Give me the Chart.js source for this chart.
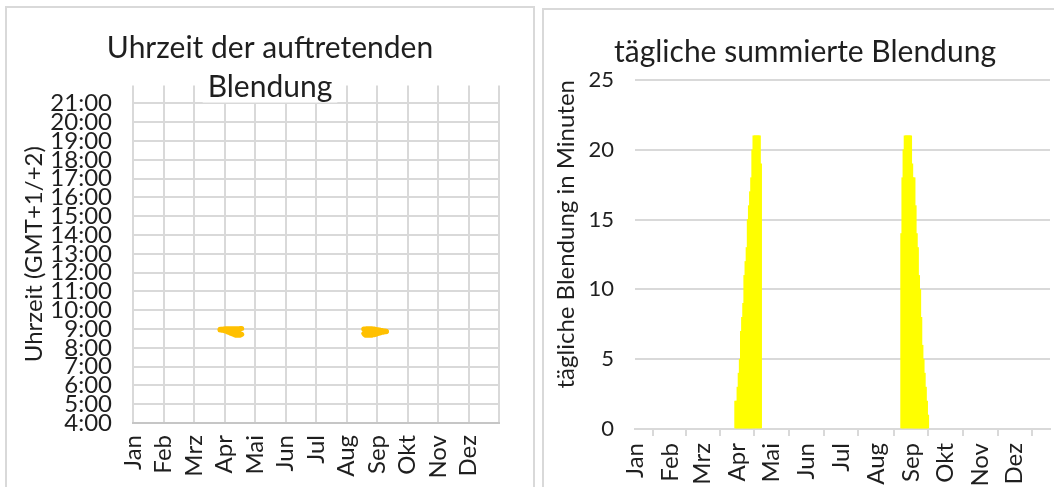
<!DOCTYPE html>
<html lang="de">
<head>
<meta charset="utf-8">
<title>Blendung</title>
<script src="https://cdn.jsdelivr.net/npm/chart.js@4.4.1/dist/chart.umd.min.js"></script>
<style>
  html, body { margin: 0; padding: 0; background: #fff; }
  body { position: relative; width: 1054px; height: 487px; overflow: hidden; }
  .panel { position: absolute; border: 2px solid #d9d9d9; box-sizing: border-box; }
  #timePanel { left: 5px; top: 6px; width: 530px; height: 500px; }
  #sumPanel { left: 542px; top: 8px; width: 530px; height: 500px; }
  canvas { display: block; }
</style>
</head>
<body>
<div class="panel" id="timePanel"><canvas id="timeChart" width="526" height="479"></canvas></div>
<div class="panel" id="sumPanel"><canvas id="sumChart" width="522" height="477"></canvas></div>
<script>
const months = ['Jan', 'Feb', 'Mrz', 'Apr', 'Mai', 'Jun', 'Jul', 'Aug', 'Sep', 'Okt', 'Nov', 'Dez']
// Monatsanfang als Tag des Jahres (0 = 1. Januar)
const monthStarts = [0, 31, 59, 90, 120, 151, 181, 212, 243, 273, 304, 334, 365]

// Frühjahr, erster Tag mit Blendung: Tag 88 (30. März)
const springFirstDay = 88
const springMinutes = [2, 2, 3, 4, 5, 7, 8, 9, 11, 12, 13, 15, 16, 17, 18, 20, 21, 21, 21, 21, 21, 21, 19]
const springStart = ['8:57', '8:57', '8:56', '8:56', '8:55', '8:54', '8:53', '8:52', '8:50', '8:49', '8:48', '8:46',
  '8:45', '8:44', '8:43', '8:41', '8:40', '8:40', '8:40', '8:40', '8:40', '8:41', '8:43']

// Spätsommer, erster Tag mit Blendung: Tag 234 (23. August)
const autumnFirstDay = 234
const autumnMinutes = [14, 18, 20, 21, 21, 21, 21, 21, 21, 19, 18, 18, 16, 14, 13, 11, 10, 8, 6, 5, 4, 3, 2, 1]
const autumnStart = ['8:46', '8:42', '8:40', '8:40', '8:40', '8:40', '8:40', '8:40', '8:40', '8:41', '8:42', '8:42',
  '8:43', '8:44', '8:45', '8:46', '8:47', '8:48', '8:49', '8:50', '8:50', '8:51', '8:51', '8:52']

const FONT = 'Lato'
const TEXT = '#1f1f1f'
const GRID = '#d9d9d9'
const GLARE_TIME = '#ffc000'
const GLARE_SUM = '#ffff00'

const toHours = (text) => {
  const [h, m] = text.split(':').map(Number)
  return h + m / 60
}

// Punkte je Tag, in der Mitte des Tages
const dayPoints = (firstDay, values) => values.map((y, i) => ({ x: firstDay + i + 0.5, y }))

const startPoints = (firstDay, starts) => dayPoints(firstDay, starts.map(toHours))
const endPoints = (firstDay, starts, minutes) =>
  dayPoints(firstDay, starts.map((t, i) => toHours(t) + minutes[i] / 60))

// Beginn und Ende der Blendung als dicke Linien, dazwischen gefüllt
const glareBand = (data, fill) => ({
  data,
  fill,
  borderColor: GLARE_TIME,
  backgroundColor: GLARE_TIME,
  borderWidth: 5,
  borderCapStyle: 'round',
  borderJoinStyle: 'round',
  pointRadius: 0,
  tension: 0
})

// Weißer Hintergrund unter den Titelzeilen, damit die Gitterlinien nicht durch den Titel laufen
const titleBackdrop = {
  id: 'titleBackdrop',
  afterDraw (chart) {
    const title = chart.titleBlock
    if (!title) return
    const opts = title.options
    const lineHeight = opts.font.size * opts.font.lineHeight
    const lines = [].concat(opts.text)
    const { ctx } = chart
    const centerX = (title.left + title.right) / 2
    ctx.save()
    ctx.font = `${opts.font.size}px ${opts.font.family}`
    ctx.fillStyle = '#ffffff'
    lines.forEach((line, i) => {
      const middle = title.top + opts.padding.top + lineHeight / 2 + i * lineHeight
      const width = ctx.measureText(line).width + 10
      ctx.fillRect(centerX - width / 2, middle - lineHeight / 2, width, lineHeight * 0.9)
    })
    ctx.restore()
    title.draw()
  }
}

const createTimeChart = (canvasId) => {
  return new Chart(document.getElementById(canvasId), {
    type: 'line',
    data: {
      datasets: [
        glareBand(startPoints(springFirstDay, springStart), false),
        glareBand(endPoints(springFirstDay, springStart, springMinutes), '-1'),
        glareBand(startPoints(autumnFirstDay, autumnStart), false),
        glareBand(endPoints(autumnFirstDay, autumnStart, autumnMinutes), '-1')
      ]
    },
    plugins: [titleBackdrop],
    options: {
      responsive: false,
      animation: false,
      events: [],
      plugins: {
        legend: { display: false },
        tooltip: { enabled: false },
        title: {
          display: true,
          text: ['Uhrzeit der auftretenden', 'Blendung'],
          color: TEXT,
          font: { family: FONT, size: 30, weight: 'normal', lineHeight: 1.29 },
          padding: { top: 21, bottom: -21 }
        }
      },
      scales: {
        x: {
          type: 'linear',
          min: 0,
          max: 372,
          afterFit: (scale) => {
            scale.height = 64
            scale.paddingRight = 34
          },
          ticks: {
            stepSize: 31,
            autoSkip: false,
            minRotation: 90,
            maxRotation: 90,
            padding: 12,
            color: TEXT,
            font: { family: FONT, size: 24 },
            callback: (value, index) => months[index] ?? ''
          },
          grid: { color: GRID, lineWidth: 2, drawTicks: false },
          border: { color: '#c6c6c6', width: 2 }
        },
        y: {
          min: 4,
          max: 21.96,
          afterFit: (scale) => { scale.width = 126 },
          ticks: {
            stepSize: 1,
            includeBounds: false,
            autoSkip: false,
            padding: 21,
            color: TEXT,
            font: { family: FONT, size: 24, lineHeight: 0.8 },
            callback: (value) => `${value}:00`
          },
          grid: { color: GRID, lineWidth: 2, drawTicks: false },
          border: { display: false },
          title: {
            display: true,
            text: 'Uhrzeit (GMT+1/+2)',
            color: TEXT,
            font: { family: FONT, size: 24 },
            padding: { top: 13, bottom: 0 }
          }
        }
      }
    }
  })
}

const createSumChart = (canvasId) => {
  return new Chart(document.getElementById(canvasId), {
    type: 'bar',
    data: {
      datasets: [{
        data: [...dayPoints(springFirstDay, springMinutes), ...dayPoints(autumnFirstDay, autumnMinutes)],
        backgroundColor: GLARE_SUM,
        barThickness: 2,
        borderWidth: 0
      }]
    },
    options: {
      responsive: false,
      animation: false,
      events: [],
      plugins: {
        legend: { display: false },
        tooltip: { enabled: false },
        title: {
          display: true,
          text: 'tägliche summierte Blendung',
          color: TEXT,
          font: { family: FONT, size: 30, weight: 'normal', lineHeight: 1.2 },
          padding: { top: 24, bottom: 10 }
        }
      },
      scales: {
        x: {
          type: 'linear',
          min: 0,
          max: 365,
          offset: false,
          afterFit: (scale) => {
            scale.height = 58
            scale.paddingRight = 16
          },
          afterBuildTicks: (scale) => {
            scale.ticks = monthStarts.map((value) => ({ value }))
          },
          ticks: {
            autoSkip: false,
            minRotation: 90,
            maxRotation: 90,
            padding: 7,
            color: TEXT,
            font: { family: FONT, size: 24 },
            callback: (value, index) => months[index] ?? ''
          },
          grid: { drawOnChartArea: false, color: GRID, lineWidth: 2, tickLength: 7 },
          border: { color: GRID, width: 2 }
        },
        y: {
          min: 0,
          max: 25,
          afterFit: (scale) => { scale.width = 91 },
          ticks: {
            stepSize: 5,
            padding: 21,
            color: TEXT,
            font: { family: FONT, size: 22 }
          },
          grid: { color: GRID, lineWidth: 2, drawTicks: false },
          border: { display: false },
          title: {
            display: true,
            text: 'tägliche Blendung in Minuten',
            align: 'end',
            color: TEXT,
            font: { family: FONT, size: 24 },
            padding: { top: 8, bottom: 0 }
          }
        }
      }
    }
  })
}

createTimeChart('timeChart')
createSumChart('sumChart')
</script>
</body>
</html>
